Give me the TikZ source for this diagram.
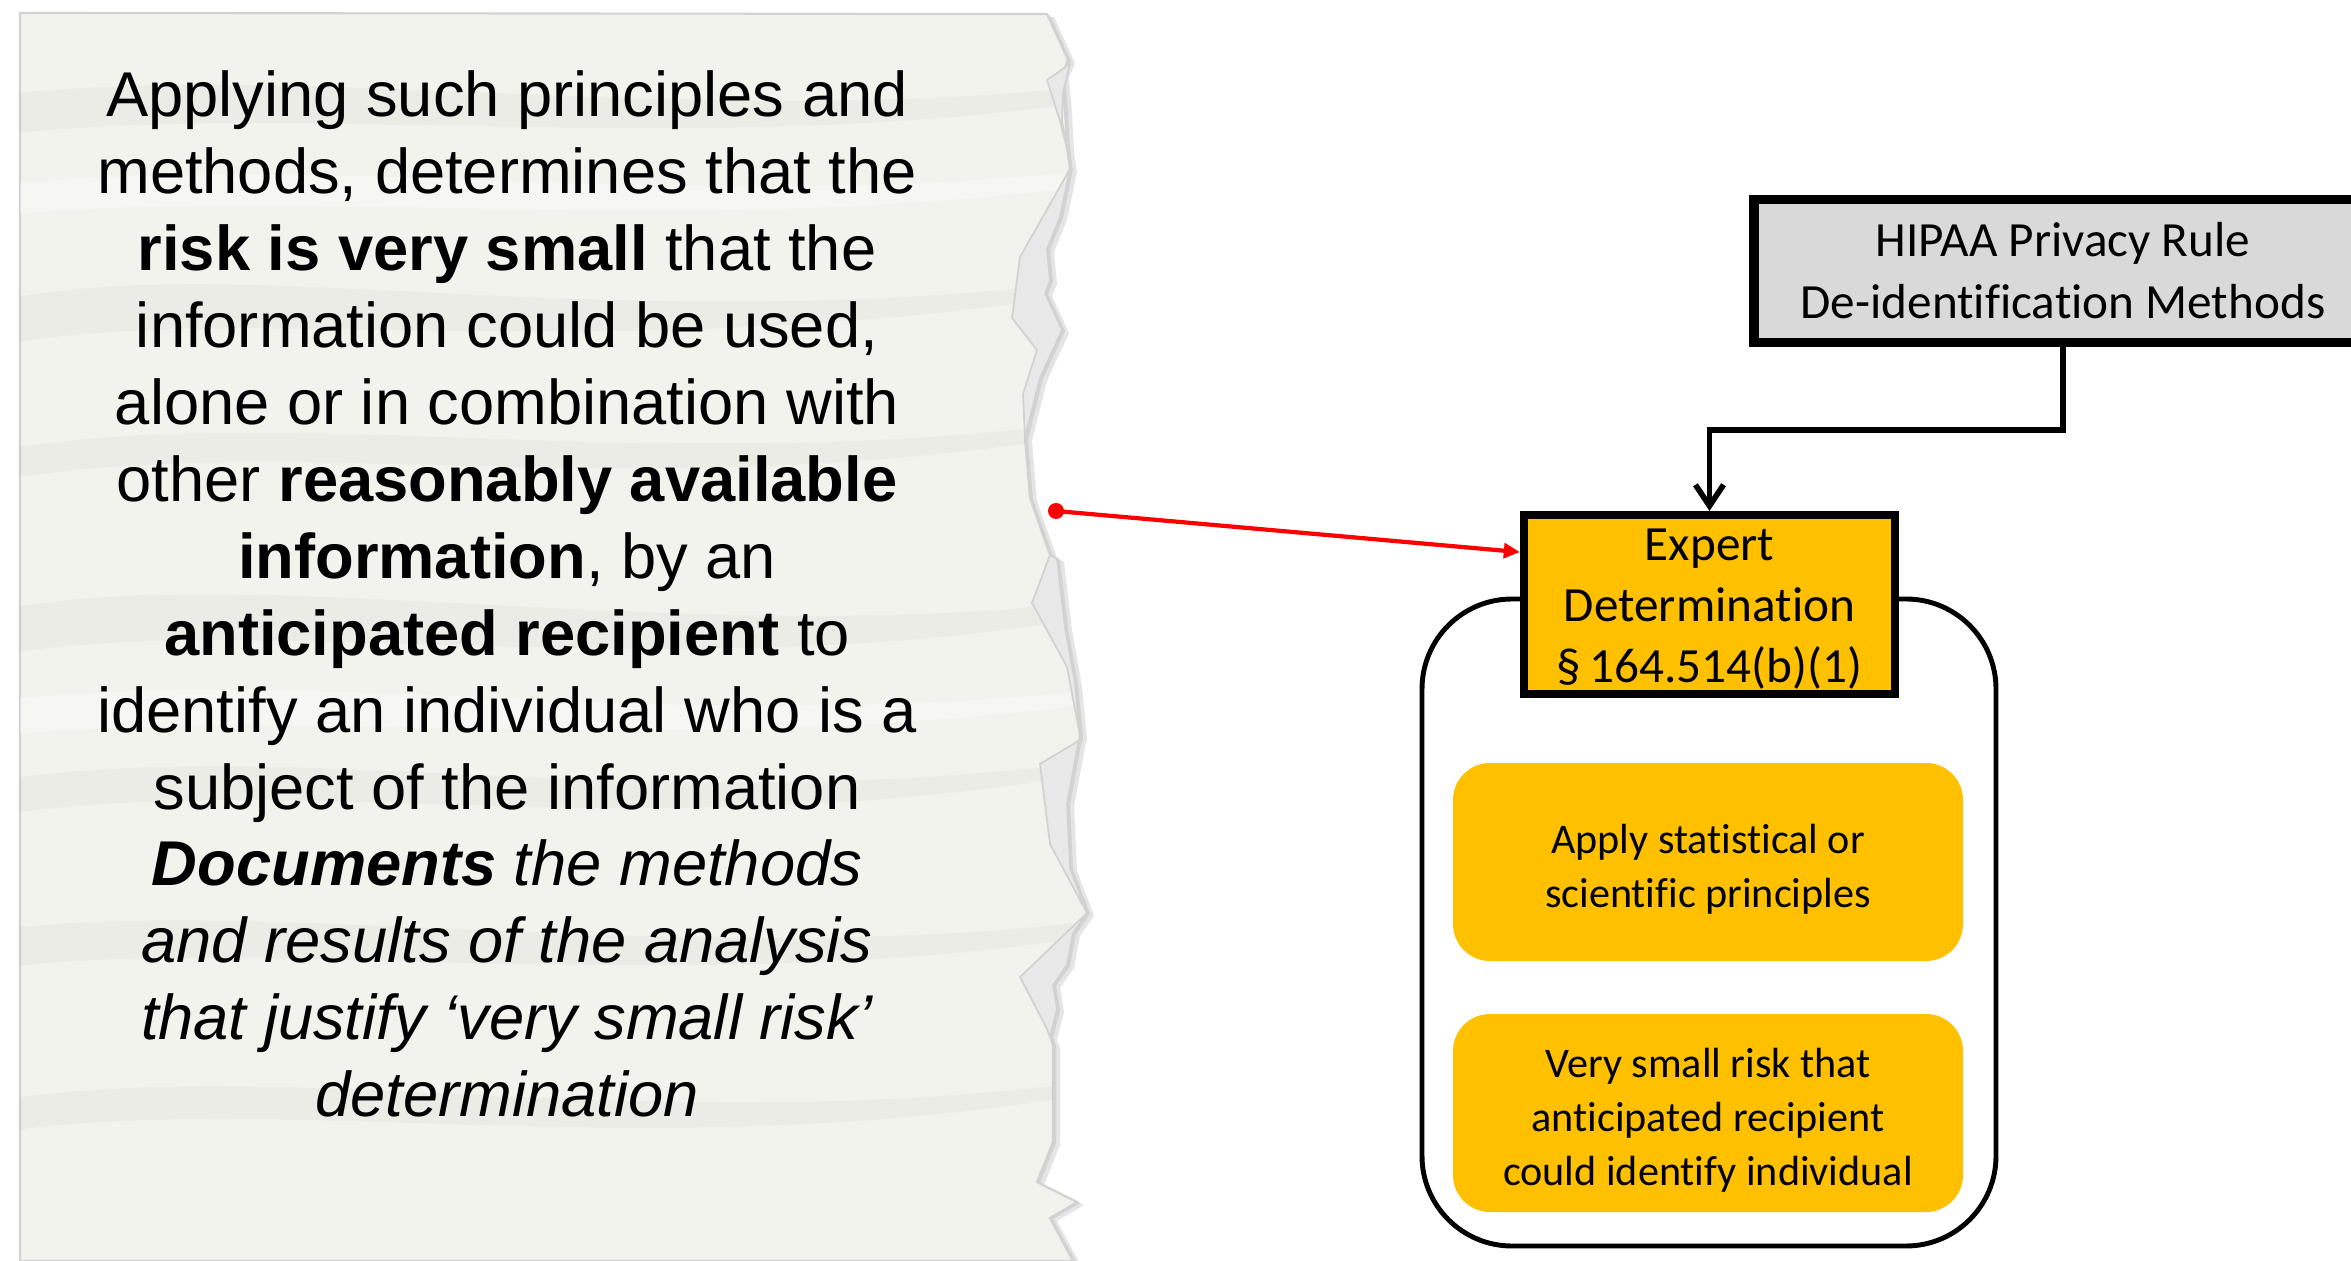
\documentclass[tikz,border=0pt]{standalone}
\usepackage{fontspec}
\setmainfont{Liberation Sans}
\newfontfamily\calibri[Ligatures=NoCommon]{Carlito}
\usetikzlibrary{arrows.meta,calc}
\definecolor{amber}{HTML}{FFC000}
\definecolor{paper}{HTML}{F3F3ED}
\definecolor{flapgray}{HTML}{E9E9E9}
\definecolor{flapedge}{HTML}{D2D2D2}
\definecolor{boxgray}{HTML}{D9D9D9}
\definecolor{arrowred}{HTML}{FF0000}

% outline of the torn sheet (outer edge, flaps included)
\newcommand\sheetoutline{(20,13) -- (1047,14) -- (1068,60) -- (1062,75) -- (1065,110)
  -- (1067,149) -- (1070,169) -- (1060,217) -- (1047,249) -- (1050,281) -- (1045,293)
  -- (1062,330) -- (1040,378) -- (1025,438) -- (1030,498) -- (1050,555) -- (1057,559)
  -- (1065,627) -- (1075,683) -- (1080,736) -- (1078,744) -- (1067,804) -- (1070,868)
  -- (1087,913) -- (1073,933) -- (1067,965) -- (1053,985) -- (1057,1009) -- (1050,1037)
  -- (1053,1045) -- (1053,1142) -- (1037,1182) -- (1077,1202) -- (1050,1218)
  -- (1073,1261) -- (20,1261) -- cycle}
% lowers a text block inside its box without changing the box size
\newcommand\lowered[2]{\raisebox{-#1}[\height][\depth]{#2}}

\begin{document}
\begin{tikzpicture}[x=0.1mm,y=-0.1mm,
  sheettext/.style={align=center, inner sep=0pt, font=\fontsize{18}{21.9}\selectfont},
  rulebox/.style={draw=black, line width=2.8pt, fill=boxgray, align=center, inner sep=0pt,
    font=\calibri\fontsize{14}{17.6}\selectfont},
  expertbox/.style={draw=black, line width=2.3pt, fill=amber, inner sep=0pt,
    font=\calibri\fontsize{14}{17.3}\selectfont},
  stepcard/.style={fill=amber, rounded corners=3.7mm, inner sep=0pt,
    minimum width=51mm, minimum height=19.8mm, font=\calibri\fontsize{12}{15.3}\selectfont},
  flap/.style={fill=flapgray, draw=flapedge, line width=0.5pt, line join=round},
  crease/.style={fill=black, opacity=0.028},
  connector/.style={draw=black, line width=1.6pt, -{Straight Barb[length=6pt,width=8pt,line width=1.6pt]}},
  pointer/.style={draw=arrowred, line width=1.2pt, -{Triangle[length=4.6pt,width=4.2pt]}}
]
\clip (0,0) rectangle (2351,1261);
\fill[white] (0,0) rectangle (2351,1261);

% ---------- torn sheet of paper ----------
\fill[black, opacity=0.10] [shift={(7,3)}] \sheetoutline;
\fill[black, opacity=0.08] [shift={(3,1)}] \sheetoutline;
\filldraw[fill=paper, draw=flapedge, line width=0.6pt] \sheetoutline;

% soft creases of the crumpled paper
\begin{scope}
  \clip \sheetoutline;
  \fill[crease] (0,95) .. controls (300,60) and (700,130) .. (1100,85)
     -- (1100,100) .. controls (700,160) and (300,100) .. (0,135) -- cycle;
  \fill[crease] (0,300) .. controls (250,250) and (600,340) .. (1100,280)
     -- (1100,292) .. controls (600,370) and (250,300) .. (0,345) -- cycle;
  \fill[crease] (0,450) .. controls (300,400) and (650,480) .. (1100,420)
     -- (1100,432) .. controls (650,510) and (300,430) .. (0,480) -- cycle;
  \fill[crease] (0,610) .. controls (250,560) and (700,650) .. (1100,600)
     -- (1100,615) .. controls (700,690) and (250,610) .. (0,655) -- cycle;
  \fill[crease] (0,780) .. controls (300,735) and (650,820) .. (1100,760)
     -- (1100,772) .. controls (650,850) and (300,770) .. (0,815) -- cycle;
  \fill[crease] (0,930) .. controls (250,895) and (700,970) .. (1100,920)
     -- (1100,935) .. controls (700,1000) and (250,935) .. (0,968) -- cycle;
  \fill[crease] (0,1100) .. controls (300,1055) and (650,1140) .. (1100,1080)
     -- (1100,1092) .. controls (650,1170) and (300,1090) .. (0,1132) -- cycle;
  \fill[white, opacity=0.3] (0,185) .. controls (350,150) and (650,215) .. (1100,170)
     -- (1100,185) .. controls (650,240) and (350,185) .. (0,215) -- cycle;
  \fill[white, opacity=0.3] (0,700) .. controls (350,665) and (650,735) .. (1100,690)
     -- (1100,703) .. controls (650,760) and (350,705) .. (0,735) -- cycle;
\end{scope}

% folded-back flaps along the torn edge
\path[flap] (1047,80) -- (1070,64) -- (1063,93) -- (1062,121) -- (1067,149) -- (1060,121) -- cycle;
\path[flap] (1070,169) -- (1020,257) -- (1012,318) -- (1037,350) -- (1023,394) -- (1025,438)
  -- (1040,378) -- (1062,330) -- (1045,293) -- (1050,281) -- (1047,249) -- (1060,217) -- cycle;
\path[flap] (1050,555) -- (1032,603) -- (1067,667) -- (1080,736) -- (1075,683) -- (1065,627)
  -- (1057,559) -- cycle;
\path[flap] (1080,740) -- (1040,764) -- (1050,844) -- (1087,913) -- (1070,868) -- (1067,804)
  -- (1078,744) -- cycle;
\path[flap] (1087,913) -- (1020,977) -- (1047,1029) -- (1050,1037) -- (1057,1009) -- (1053,985)
  -- (1067,965) -- (1073,933) -- cycle;

\node[sheettext] (sheet) at (507,594) {%
  Applying such principles and\\
  methods, determines that the\\
  \textbf{risk is very small} that the\\
  information could be used,\\
  alone or in combination with\\
  other \textbf{reasonably available}\\
  \textbf{information}, by an\\
  \textbf{anticipated recipient} to\\
  identify an individual who is a\\
  subject of the information\\
  \textbf{\textit{Documents}} \textit{the methods}\\
  \textit{and results of the analysis}\\
  \textit{that justify ‘very small risk’}\\
  \textit{determination}};

% ---------- flow chart ----------
\node[rulebox, minimum width=61.8mm, minimum height=14.3mm] (rule) at (2063,271)
  {HIPAA Privacy Rule\\De-identification Methods};

\draw[black, line width=1.4pt, rounded corners=9mm] (1422,599) rectangle (1996,1246);

\node[expertbox, minimum width=37.1mm, minimum height=17.9mm] (expert) at (1709.5,604.5)
  {\lowered{0.45mm}{\parbox{37mm}{\centering Expert\\Determination\\§\,164.514(b)(1)}}};

\coordinate (bend) at (2063,430);
\draw[connector] (rule.south) -- (bend) -| (expert.north);

\node[stepcard] (apply) at (1708,862)
  {\lowered{0.75mm}{\parbox{50mm}{\centering Apply statistical or\\scientific principles}}};
\node[stepcard] (risk) at (1708,1113)
  {\lowered{0.7mm}{\parbox{50mm}{\centering Very small risk that\\anticipated recipient\\could identify individual}}};

% pointer from the sheet to the expert determination box
\coordinate (dot) at (1056,511);
\fill[arrowred] (dot) circle (0.8mm);
\draw[pointer] (dot) -- ($(expert.north west)!0.22!(expert.south west)$);
\end{tikzpicture}
\end{document}
